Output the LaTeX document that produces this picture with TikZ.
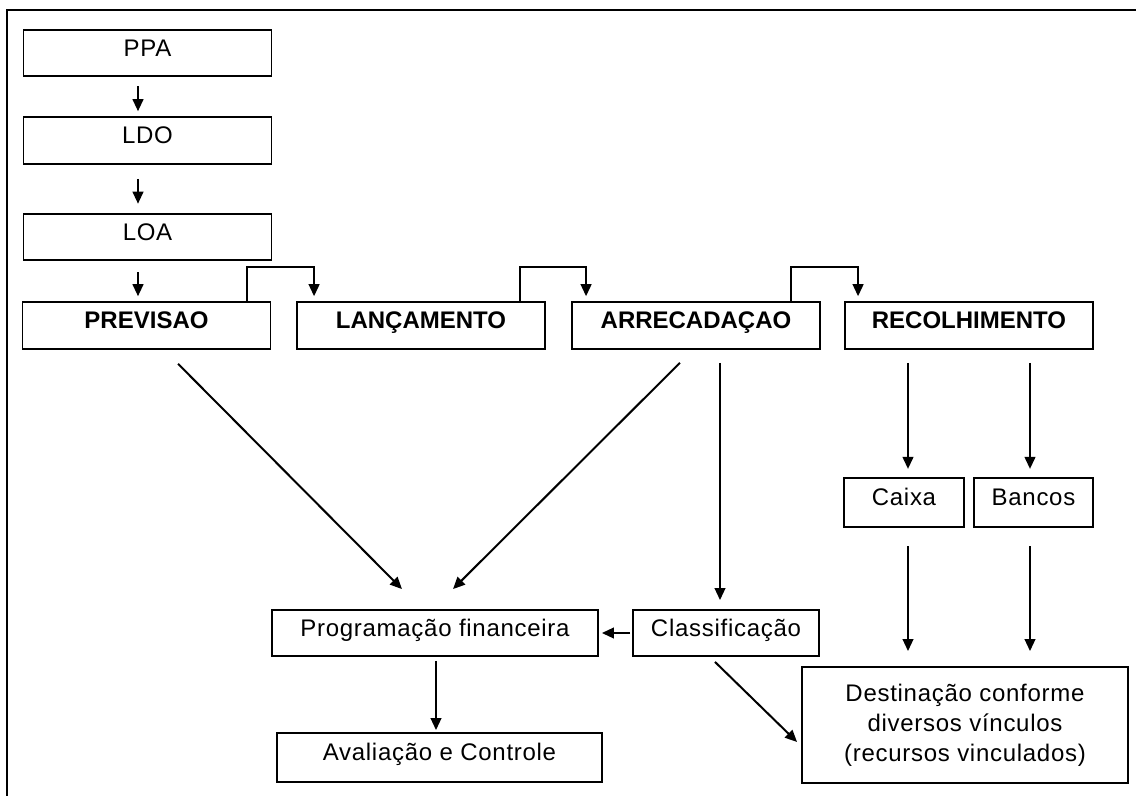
\documentclass[tikz,border=0pt]{standalone}
\usepackage{fontspec}
\setmainfont{Liberation Sans}
\usetikzlibrary{arrows.meta,calc}

\begin{document}
\begin{tikzpicture}[x=0.75pt, y=-0.75pt,
    textbox/.style={draw, line width=1.4pt, minimum width=186pt, minimum height=35pt,
        inner sep=0pt, font=\fontsize{18}{22.5}\selectfont\addfontfeature{LetterSpace=3}},
    box/.style={textbox, text height=12.75pt, text depth=8pt},
    mainbox/.style={box, font=\fontsize{18}{22}\selectfont\bfseries},
    arr/.style={-{Triangle[length=9pt, width=8pt]}, line width=1.5pt}]
    \useasboundingbox (0,0) rectangle (1136,796);
    % frame
    \draw[line width=1.8pt] (1136,10) -- (7,10) -- (7,796);

    \node[box] (ppa)  at (147.5, 53)    {PPA};
    \node[box] (ldo)  at (147.5, 140.5) {LDO};
    \node[box] (loa)  at (147.5, 237)   {LOA};
    \node[mainbox] (prev) at (146.5, 325.5) {PREVISAO};
    \node[mainbox] (lanc) at (421, 325.5)   {LANÇAMENTO};
    \node[mainbox] (arre) at (696, 325.5)   {ARRECADAÇAO};
    \node[mainbox] (reco) at (969, 325.5)   {RECOLHIMENTO};
    \node[box, minimum width=244.5pt, minimum height=34.5pt] (prog) at (435, 633) {Programação financeira};
    \node[box, minimum width=139.5pt, minimum height=34.5pt] (clas) at (726, 633) {Classificação};
    \node[box, minimum width=243.75pt, minimum height=36.75pt] (aval) at (439.5, 757.5) {Avaliação e Controle};
    \node[box, minimum width=90pt, minimum height=37pt] (caixa) at (904, 502.5) {Caixa};
    \node[box, minimum width=89pt, minimum height=37pt] (banc) at (1033.5, 502.5) {Bancos};
    \node[textbox, minimum width=244.5pt, minimum height=87pt, align=center] (dest) at (965, 725)
        {Destinação conforme\\diversos vínculos\\(recursos vinculados)};

    \draw[arr] ($(ppa.south)+(-9.5,9)$) -- ($(ldo.north)+(-9.5,-5)$);
    \draw[arr] ($(ldo.south)+(-9.5,14)$) -- ($(loa.north)+(-9.5,-9)$);
    \draw[arr] ($(loa.south)+(-9.5,11)$) -- ($(prev.north)+(-8.5,-5)$);

    \draw[arr] ($(prev.north east)+(-24,0)$) -- ++(0,-34) -| ($(lanc.north west)+(18,-5)$);
    \draw[arr] ($(lanc.north east)+(-26,0)$) -- ++(0,-34) -| ($(arre.north west)+(15,-5)$);
    \draw[arr] ($(arre.north east)+(-30,0)$) -- ++(0,-34) -| ($(reco.north west)+(14,-5)$);

    \draw[arr] ($(prev.south)+(31.5,14)$) -- ($(prog.north)+(-33,-20)$);
    \draw[arr] ($(arre.south)+(-16,13)$) -- ($(prog.north)+(18,-20)$);
    \draw[arr] ($(arre.south)+(24,13)$) -- ($(clas.north)+(-6,-9)$);
    \draw[arr] ($(reco.south)+(-61,13)$) -- ($(caixa.north)+(4,-8)$);
    \draw[arr] ($(reco.south)+(61,13)$) -- ($(banc.north)+(-3.5,-8)$);
    \draw[arr] ($(caixa.south)+(4,18)$) -- ($(dest.north)+(-57,-15)$);
    \draw[arr] ($(banc.south)+(-3.5,18)$) -- ($(dest.north)+(65,-15)$);
    \draw[arr] ($(clas.west)+(-2,0)$) -- ($(prog.east)+(3,0)$);
    \draw[arr] ($(clas.south)+(-11,5)$) -- ($(dest.west)+(-4,17)$);
    \draw[arr] ($(prog.south)+(1,4)$) -- ($(aval.north)+(-3.5,-2)$);
\end{tikzpicture}
\end{document}
